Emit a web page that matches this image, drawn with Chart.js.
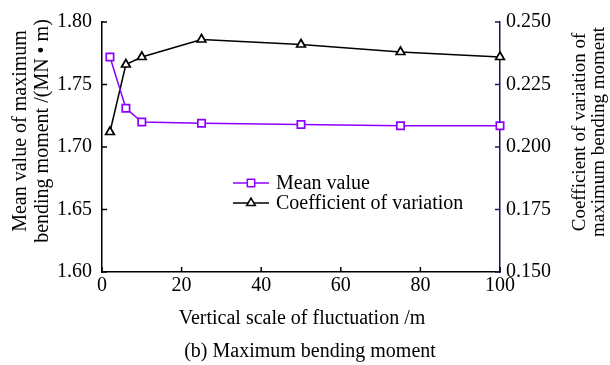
<!DOCTYPE html>
<html>
<head>
<meta charset="utf-8">
<script src="https://cdn.jsdelivr.net/npm/chart.js@4/dist/chart.umd.min.js"></script>
<style>
  html, body { margin: 0; padding: 0; background: #ffffff; }
  #wrap { width: 610px; height: 365px; position: relative; }
</style>
</head>
<body>
<div id="wrap"><canvas id="c" width="610" height="365"></canvas></div>
<script>
// Vertical scale of fluctuation (m)
const scales_m = [2, 6, 10, 25, 50, 75, 100];
// Mean value of maximum bending moment (MN·m)
const meanValue = [1.772, 1.731, 1.720, 1.719, 1.718, 1.717, 1.717];
// Coefficient of variation of maximum bending moment
const coefVariation = [0.206, 0.233, 0.236, 0.243, 0.241, 0.238, 0.236];

const xTicks = [0, 20, 40, 60, 80, 100];
const leftTicks = [1.60, 1.65, 1.70, 1.75, 1.80];
const rightTicks = [0.150, 0.175, 0.200, 0.225, 0.250];

const FONT = '"Liberation Serif", "Times New Roman", serif';
const FS = 20;
const PURPLE = '#8b00ff';
const RIGHT_AXIS = '#2b1157';

const toPoints = (xs, ys) => xs.map((x, i) => ({ x: x, y: ys[i] }));

// Inward tick marks, legend, axis titles and caption
const decorations = {
  id: 'decorations',
  afterDraw(chart) {
    const ctx = chart.ctx;
    const area = chart.chartArea;
    const sx = chart.scales.x, sy = chart.scales.y, sy1 = chart.scales.y1;
    const TL = 5;
    ctx.save();
    ctx.lineWidth = 1.5;

    ctx.strokeStyle = '#000';
    xTicks.forEach(v => {
      const px = sx.getPixelForValue(v);
      ctx.beginPath(); ctx.moveTo(px, area.bottom); ctx.lineTo(px, area.bottom - TL); ctx.stroke();
    });
    leftTicks.forEach(v => {
      const py = sy.getPixelForValue(v);
      ctx.beginPath(); ctx.moveTo(area.left, py); ctx.lineTo(area.left + TL, py); ctx.stroke();
    });
    ctx.strokeStyle = RIGHT_AXIS;
    rightTicks.forEach(v => {
      const py = sy1.getPixelForValue(v);
      ctx.beginPath(); ctx.moveTo(area.right, py); ctx.lineTo(area.right - TL, py); ctx.stroke();
    });

    // Legend
    const items = chart.data.datasets;
    const lx0 = 233, lx1 = 269, mx = 251, tx = 276;
    items.forEach((ds, i) => {
      const y = 183 + i * 20;
      ctx.strokeStyle = ds.borderColor;
      ctx.lineWidth = 1.5;
      ctx.beginPath(); ctx.moveTo(lx0, y); ctx.lineTo(lx1, y); ctx.stroke();
      ctx.fillStyle = '#fff';
      ctx.strokeStyle = ds.pointBorderColor;
      Chart.helpers.drawPoint(ctx, {
        pointStyle: ds.pointStyle, radius: ds.pointRadius, borderWidth: ds.pointBorderWidth, rotation: 0
      }, mx, y);
      ctx.fillStyle = '#000';
      ctx.font = FS + 'px ' + FONT;
      ctx.textAlign = 'left';
      ctx.textBaseline = 'middle';
      ctx.fillText(ds.label, tx, y + 1);
    });

    // Axis titles
    ctx.fillStyle = '#000';
    ctx.font = FS + 'px ' + FONT;
    ctx.textAlign = 'center';
    ctx.textBaseline = 'middle';
    ctx.fillText('Vertical scale of fluctuation /m', 302, 319);

    ctx.save();
    ctx.translate(21, 131);
    ctx.rotate(-Math.PI / 2);
    ctx.fillText('Mean value of maximum', 0, 0);
    ctx.fillText('bending moment /(MN \u2022 m)', 0, 22);
    ctx.restore();

    ctx.save();
    ctx.font = '19px ' + FONT;
    ctx.translate(580, 132);
    ctx.rotate(-Math.PI / 2);
    ctx.fillText('Coefficient of variation of', 0, 0);
    ctx.fillText('maximum bending moment', 0, 19);
    ctx.restore();

    ctx.fillText('(b) Maximum bending moment', 310, 352);
    ctx.restore();
  }
};

new Chart(document.getElementById('c'), {
  type: 'line',
  data: {
    datasets: [
      {
        label: 'Mean value',
        data: toPoints(scales_m, meanValue),
        yAxisID: 'y',
        borderColor: PURPLE,
        borderWidth: 1.5,
        pointStyle: 'rect',
        pointRadius: 5.2,
        pointBorderWidth: 1.7,
        pointBackgroundColor: '#fff',
        pointBorderColor: PURPLE,
        tension: 0,
        clip: false
      },
      {
        label: 'Coefficient of variation',
        data: toPoints(scales_m, coefVariation),
        yAxisID: 'y1',
        borderColor: '#000',
        borderWidth: 1.5,
        pointStyle: 'triangle',
        pointRadius: 5,
        pointBorderWidth: 1.7,
        pointBackgroundColor: '#fff',
        pointBorderColor: '#000',
        tension: 0,
        clip: false
      }
    ]
  },
  options: {
    responsive: false,
    animation: false,
    events: [],
    layout: { padding: { top: 17, left: 0, right: 0, bottom: 0 } },
    plugins: { legend: { display: false }, tooltip: { enabled: false } },
    scales: {
      x: {
        type: 'linear',
        min: 0, max: 100,
        afterFit: s => { s.height = 93; },
        afterBuildTicks: s => { s.ticks = xTicks.map(v => ({ value: v })); },
        ticks: { color: '#000', font: { family: FONT, size: FS }, padding: 2, maxRotation: 0, autoSkip: false },
        grid: { display: true, drawOnChartArea: false, drawTicks: false },
        border: { display: true, color: '#000', width: 1.5 }
      },
      y: {
        position: 'left',
        min: 1.60, max: 1.80,
        afterFit: s => { s.width = 102; },
        afterBuildTicks: s => { s.ticks = leftTicks.map(v => ({ value: v })); },
        ticks: { color: '#000', font: { family: FONT, size: FS }, padding: 10,
                 callback: v => Number(v).toFixed(2) },
        grid: { display: true, drawOnChartArea: false, drawTicks: false },
        border: { display: true, color: '#000', width: 1.5 }
      },
      y1: {
        position: 'right',
        min: 0.150, max: 0.250,
        afterFit: s => { s.width = 110; },
        afterBuildTicks: s => { s.ticks = rightTicks.map(v => ({ value: v })); },
        ticks: { color: '#000', font: { family: FONT, size: FS }, padding: 6,
                 callback: v => Number(v).toFixed(3) },
        grid: { display: true, drawOnChartArea: false, drawTicks: false },
        border: { display: true, color: RIGHT_AXIS, width: 1.5 }
      }
    }
  },
  plugins: [decorations]
});
</script>
</body>
</html>
